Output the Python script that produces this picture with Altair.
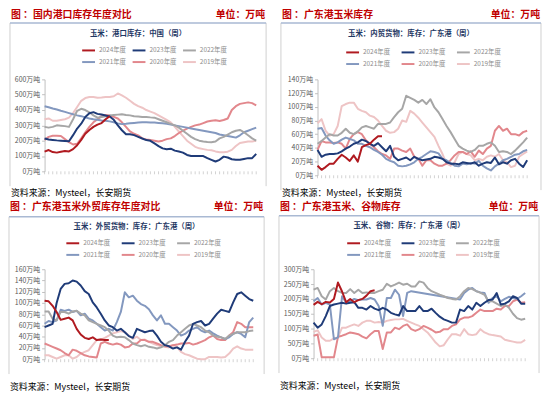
import altair as alt
import pandas as pd

FONT = "Noto Sans CJK SC"
AX = "#BFBFBF"
LAB = "#595959"

years = ["2024年度", "2023年度", "2022年度", "2021年度", "2020年度", "2019年度"]
colors = ["#B01A20", "#1F3B78", "#A6A6A6", "#8398BF", "#E2878C", "#EEC4C5"]
widths = [2, 2, 1.5, 1.5, 1.5, 1.5]
week_ticks = [1, 7, 13, 19, 25, 31, 37, 43, 49]
weeks = list(range(1, 54))
source_text = "资料来源：Mysteel，长安期货"
unit_text = "单位：万吨"

# ---------- Panel 1: 国内港口库存 ----------
p1_2024 = [129, 139, 126, 122, 128, 133, 130, 145, 170, 205, 245, 270, 290, 305, 315, 340, 360]
p1_2023 = [214, 208, 205, 202, 200, 198, 196, 236, 279, 311, 354, 379, 386, 375, 371, 364, 358, 336, 300, 268,
           242, 242, 236, 225, 214, 204, 199, 182, 165, 150, 144, 148, 135, 129, 122, 107, 100, 100, 100, 100,
           86, 75, 64, 75, 96, 90, 79, 75, 75, 81, 86, 86, 114]
p1_2022 = [290, 285, 290, 300, 298, 295, 290, 340, 395, 408, 400, 385, 365, 350, 355, 360, 365, 368, 370, 372,
           368, 365, 360, 358, 355, 355, 352, 350, 340, 330, 320, 310, 300, 285, 265, 245, 225, 210, 200, 195,
           192, 190, 195, 215, 225, 240, 255, 265, 270, 255, 235, 215, 200]
p1_2021 = [425, 418, 410, 403, 395, 388, 380, 372, 365, 360, 352, 345, 340, 336, 332, 330, 326, 320, 312, 308,
           310, 313, 316, 318, 320, 320, 319, 318, 316, 314, 310, 305, 300, 295, 290, 285, 280, 275, 270, 265,
           260, 255, 250, 240, 235, 230, 225, 220, 235, 255, 265, 275, 285]
p1_2020 = [205, 225, 232, 232, 230, 210, 190, 175, 180, 215, 255, 290, 320, 340, 360, 368, 365, 355, 345, 320,
           290, 260, 245, 235, 215, 208, 205, 200, 195, 200, 210, 215, 230, 250, 265, 278, 290, 300, 305, 315,
           325, 330, 333, 328, 335, 345, 400, 425, 440, 445, 450, 445, 430]
p1_2019 = [340, 345, 330, 330, 335, 340, 350, 380, 420, 460, 478, 485, 485, 480, 482, 485, 485, 490, 508, 495,
           480, 460, 440, 425, 415, 400, 390, 380, 365, 350, 335, 320, 290, 260, 230, 200, 180, 160, 150, 145,
           140, 138, 130, 125, 125, 128, 140, 165, 185, 190, 195, 195, 200]

# ---------- Panel 2: 内贸货物 广东港 ----------
p2_2024 = [14, 8, 12, 17, 17, 24, 30, 26, 21, 29, 20, 41, 44, 46, 52, 57, 57]
p2_2023 = [37, 27, 30, 31, 31, 32, 35, 39, 42, 46, 48, 52, 50, 46, 43, 47, 41, 35, 43, 27, 22, 24, 26, 22, 27,
           24, 22, 23, 24, 27, 26, 24, 19, 17, 17, 16, 19, 18, 17, 19, 14, 17, 19, 18, 26, 16, 19, 17, 22, 24,
           17, 12, 22]
p2_2022 = [46, 50, 55, 60, 58, 58, 62, 68, 62, 60, 64, 70, 72, 70, 68, 75, 75, 75, 77, 85, 92, 97, 116, 113,
           110, 106, 110, 104, 111, 99, 92, 82, 72, 63, 53, 43, 39, 36, 34, 37, 43, 43, 46, 48, 43, 34, 35, 34,
           31, 36, 42, 48, 55]
p2_2021 = [68, 69, 58, 51, 46, 48, 52, 55, 53, 51, 46, 46, 43, 41, 37, 34, 30, 24, 21, 19, 14, 13, 14, 16, 19,
           24, 27, 31, 35, 34, 32, 24, 22, 18, 14, 13, 17, 16, 18, 17, 21, 14, 10, 7, 13, 17, 22, 24, 27, 30,
           31, 35, 37]
p2_2020 = [37, 50, 48, 48, 47, 48, 46, 39, 53, 60, 63, 60, 51, 46, 41, 35, 31, 29, 24, 39, 39, 36, 34, 39, 27,
           24, 14, 22, 22, 17, 14, 14, 17, 22, 29, 34, 34, 31, 35, 27, 36, 31, 39, 43, 65, 72, 65, 68, 60, 60,
           58, 63, 65]
p2_2019 = [76, 82, 65, 58, 60, 72, 101, 104, 106, 106, 97, 94, 92, 87, 85, 80, 72, 65, 62, 63, 68, 80, 78, 94,
           90, 84, 77, 70, 63, 56, 43, 31, 17, 14, 19, 31, 34, 31, 29, 22, 24, 22, 27, 29, 27, 31, 22, 19, 12,
           14, 27, 31, 35]

# ---------- Panel 3: 外贸货物 广东港 ----------
p3_2024 = [104, 103, 95, 84, 70, 72, 74, 69, 54, 44, 38, 36, 39, 34, 35, 34, 34]
p3_2023 = [57, 60, 63, 100, 125, 134, 135, 140, 138, 131, 121, 116, 101, 92, 81, 69, 60, 57, 51, 54, 48, 41,
           38, 54, 51, 48, 50, 51, 42, 31, 25, 23, 19, 21, 17, 31, 42, 63, 66, 68, 60, 63, 72, 81, 88, 86, 84,
           101, 116, 119, 113, 107, 104]
p3_2022 = [85, 85, 72, 69, 84, 84, 81, 85, 86, 81, 78, 69, 66, 63, 60, 57, 51, 42, 39, 40, 39, 34, 28, 25, 23,
           25, 22, 21, 19, 21, 25, 31, 34, 42, 48, 54, 60, 63, 60, 57, 51, 48, 42, 40, 39, 36, 42, 45, 48, 48,
           48, 50, 51]
p3_2021 = [63, 68, 66, 69, 88, 86, 88, 84, 86, 78, 81, 72, 69, 63, 57, 51, 54, 51, 66, 84, 119, 110, 113, 104,
           98, 95, 89, 78, 69, 78, 63, 63, 57, 51, 42, 45, 51, 54, 57, 51, 48, 51, 46, 42, 39, 36, 39, 45, 48,
           45, 39, 66, 74]
p3_2020 = [28, 25, 22, 19, 16, 11, 7, 17, 15, 11, 7, 5, 4, 3, 28, 31, 28, 26, 28, 26, 21, 22, 28, 28, 34, 34,
           31, 31, 28, 25, 23, 23, 25, 26, 28, 28, 29, 26, 28, 31, 34, 39, 42, 36, 34, 34, 42, 48, 66, 63, 57,
           57, 57]
p3_2019 = [7, 7, 4, 1, 4, 7, 7, 1, 4, 10, 13, 16, 25, 34, 35, 38, 42, 46, 48, 50, 48, 42, 36, 40, 34, 35, 31,
           28, 25, 23, 22, 21, 25, 22, 13, 9, 7, 4, 1, 0, 0, 4, 4, 4, 3, 4, 10, 19, 23, 19, 17, 17, 17]

# ---------- Panel 4: 玉米、谷物 广东港 ----------
p4_2024 = [180, 190, 182, 190, 188, 200, 255, 225, 189, 200, 189, 196, 200, 211, 226, 229]
p4_2023 = [120, 103, 114, 142, 176, 181, 184, 187, 184, 187, 189, 170, 170, 164, 176, 167, 162, 170, 164, 153,
           148, 144, 176, 159, 159, 159, 176, 159, 159, 167, 153, 140, 131, 126, 120, 120, 164, 159, 176, 164,
           187, 176, 187, 196, 198, 220, 181, 184, 192, 209, 203, 184, 184]
p4_2022 = [231, 237, 209, 198, 226, 237, 226, 220, 220, 233, 220, 231, 220, 222, 220, 220, 226, 231, 251, 242,
           248, 255, 248, 251, 242, 242, 259, 255, 237, 226, 220, 214, 209, 203, 200, 198, 209, 226, 237, 233,
           226, 220, 214, 192, 192, 184, 176, 181, 170, 150, 135, 130, 133]
p4_2021 = [192, 203, 181, 187, 181, 64, 70, 209, 187, 192, 200, 196, 198, 198, 203, 198, 176, 109, 203, 203,
           231, 214, 142, 220, 226, None, None, None, None, None, None, None, None, None, None, None,
           198, 220, 231, 237, 226, 222, 220, 187, 203, 209, 192, 200, 207, 203, 200, 209, 220]
p4_2020 = [76, 80, 3, 3, 3, 3, 72, 76, 81, 87, 84, 81, 73, 67, 81, 92, 92, 31, 87, 87, 103, 98, 109, 114, 98,
           92, 98, 109, 103, 96, 87, 89, 98, 98, 109, 114, 131, 137, 137, 142, 153, 164, 159, 159, 159, 167,
           164, 176, 176, 192, 198, 187, 189]
p4_2019 = [89, 94, 70, 59, 59, 67, 70, 103, 103, 109, 114, 109, 120, 126, 126, 120, 122, 120, 126, 129, 131,
           131, 133, 126, 120, 114, 109, 98, 87, 70, 53, 40, 44, 64, 81, 81, 76, 98, 81, 78, 81, 98, 87, 81, 78,
           76, 73, 62, 59, 56, 53, 53, 62]


def build_df(series):
    rows = []
    for name, vals in reversed(list(zip(years, series))):
        for i, v in enumerate(vals):
            if v is not None:
                rows.append({"week": weeks[i], "year": name, "value": v})
    return pd.DataFrame(rows)


def text_layer(txt, x, y, size, color, weight="normal", align="left"):
    return alt.Chart(pd.DataFrame({"t": [txt]})).mark_text(
        font=FONT, fontSize=size, color=color, fontWeight=weight, align=align, baseline="middle"
    ).encode(text="t:N", x=alt.value(x), y=alt.value(y))


def vrule(x, y, y2, color, w):
    return alt.Chart(pd.DataFrame({"k": [0]})).mark_rule(color=color, strokeWidth=w).encode(
        x=alt.value(x), y=alt.value(y), y2=alt.value(y2))


def hrule(x, x2, y, color, w):
    return alt.Chart(pd.DataFrame({"k": [0]})).mark_rule(color=color, strokeWidth=w).encode(
        x=alt.value(x), x2=alt.value(x2), y=alt.value(y))


def panel(series, header, inner, ymax, ystep, W, H, g):
    df = build_df(series)
    xs = alt.Scale(domain=[1, 53], nice=False, zero=False)
    lines = alt.Chart(df).mark_line(strokeJoin="round").encode(
        x=alt.X("week:Q", scale=xs, axis=alt.Axis(
            values=week_ticks, labelExpr="'第' + datum.value + '周'", title=None, grid=False, ticks=False,
            domainColor=AX, labelFont=FONT, labelFontSize=7, labelColor=LAB, labelPadding=5,
            labelFlush=False, labelOverlap=False)),
        y=alt.Y("value:Q", scale=alt.Scale(domain=[0, ymax], nice=False), axis=alt.Axis(
            values=list(range(0, ymax + 1, ystep)), labelExpr="datum.value + '万吨'", title=None, grid=False,
            tickSize=3, tickColor=AX, domainColor=AX, labelFont=FONT, labelFontSize=7, labelColor=LAB,
            labelPadding=2, labelFlush=False, labelOverlap=False)),
        color=alt.Color("year:N", scale=alt.Scale(domain=years, range=colors), legend=alt.Legend(
            orient="none", legendX=g["lx"], legendY=g["ly"], columns=3, direction="horizontal", title=None,
            symbolType="stroke", symbolSize=169, symbolStrokeWidth=2, labelFont=FONT,
            labelFontSize=6.5, labelColor="#8C8C8C", columnPadding=g["cp"], rowPadding=g["rp"],
            labelOffset=3)),
        strokeWidth=alt.StrokeWidth("year:N", scale=alt.Scale(domain=years, range=widths), legend=None),
    )
    ticks = alt.Chart(pd.DataFrame({"week": weeks})).mark_rule(color=AX, strokeWidth=0.7).encode(
        x=alt.X("week:Q", scale=xs, axis=None), y=alt.value(H), y2=alt.value(H + 3))
    bl, br, bt = g["bl"], W + g["br"], g["bt"]
    layers = [
        vrule(bl, bt, H + 15, "#CFCFCF", 1),
        vrule(br, bt, H + 15, "#CFCFCF", 1),
        hrule(bl, br, bt, "#A9B9D3", 1.5),
        text_layer(header, bl + 1, g["ty"], 10, "#C00000", "bold"),
        text_layer(unit_text, br - 1, g["ty"], 10, "#C00000", "bold", "right"),
        text_layer(inner, (bl + br) / 2, g["iy"], 7.5, "#1F3864", "bold", "center"),
        text_layer(source_text, bl + 1, H + g["sy"], 9, "#000000"),
        ticks,
        lines,
    ]
    return alt.layer(*layers).properties(width=W, height=H).resolve_scale(color="independent")


c1 = panel([p1_2024, p1_2023, p1_2022, p1_2021, p1_2020, p1_2019], "图 ：国内港口库存年度对比",
           "玉米：港口库存：中国（周）", 600, 100, 214, 93,
           dict(lx=37, ly=-37, cp=2, rp=-3, bl=-35, br=10, bt=-57, ty=-65, iy=-46, sy=22))
c2 = panel([p2_2024, p2_2023, p2_2022, p2_2021, p2_2020, p2_2019], "图 ：广东港玉米库存",
           "玉米：内贸货物：库存：广东港（周）", 140, 20, 212, 97,
           dict(lx=28, ly=-35, cp=7, rp=-1, bl=-37, br=14, bt=-57, ty=-65, iy=-46, sy=18))
c3 = panel([p3_2024, p3_2023, p3_2022, p3_2021, p3_2020, p3_2019], "图 ：广东港玉米外贸库存年度对比",
           "玉米：外贸货物：库存：广东港（周）", 160, 20, 211, 91,
           dict(lx=21, ly=-34, cp=7, rp=-1, bl=-36, br=11, bt=-53, ty=-63, iy=-43, sy=28))
c4 = panel([p4_2024, p4_2023, p4_2022, p4_2021, p4_2020, p4_2019], "图 ：广东港玉米、谷物库存",
           "玉米、谷物：库存：广东港（周）", 300, 50, 214, 90,
           dict(lx=33, ly=-34, cp=6, rp=-2, bl=-35, br=14, bt=-54, ty=-63, iy=-44, sy=28))

row1 = alt.hconcat(c1, c2, spacing=13).resolve_scale(
    x="independent", y="independent", color="independent", strokeWidth="independent")
row2 = alt.hconcat(c3, c4, spacing=13).resolve_scale(
    x="independent", y="independent", color="independent", strokeWidth="independent")

chart = alt.vconcat(row1, row2, spacing=4).resolve_scale(
    x="independent", y="independent", color="independent", strokeWidth="independent"
).properties(padding=0, background="white").configure_view(stroke=None)

chart.save("out.html", embed_options={"renderer": "svg", "actions": False})
